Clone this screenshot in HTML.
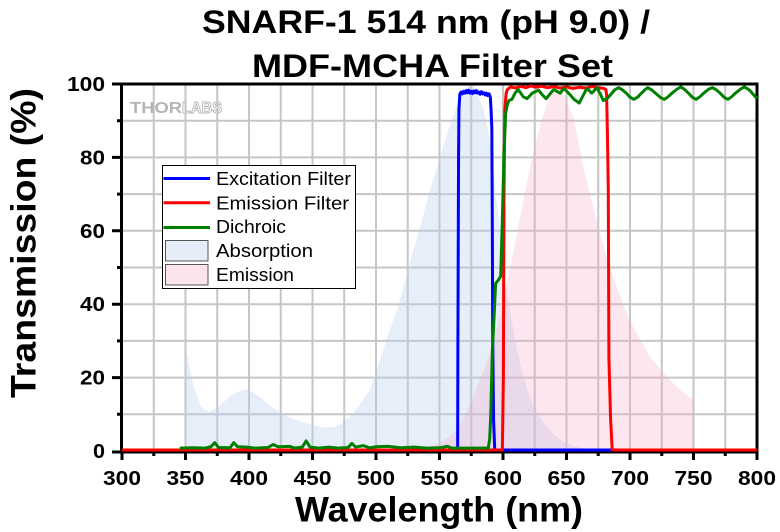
<!DOCTYPE html>
<html><head><meta charset="utf-8"><style>
html,body{margin:0;padding:0;background:#fff;}
svg{display:block;}
text{font-family:"Liberation Sans",Arial,sans-serif;}
</style></head><body>
<svg width="780" height="532" viewBox="0 0 780 532" xmlns="http://www.w3.org/2000/svg">
<rect width="780" height="532" fill="#fff"/>
<!-- Title -->
<text x="202" y="33" font-size="32" font-weight="bold" textLength="448" lengthAdjust="spacingAndGlyphs">SNARF-1 514 nm (pH 9.0) /</text>
<text x="252" y="77" font-size="32" font-weight="bold" textLength="361" lengthAdjust="spacingAndGlyphs">MDF-MCHA Filter Set</text>

<!-- grid -->
<g stroke="#c6c6c6" stroke-width="2">
<path d="M153.75 84V451M185.5 84V451M217.25 84V451M249 84V451M280.75 84V451M312.5 84V451M344.25 84V451M376 84V451M407.75 84V451M439.5 84V451M471.25 84V451M503 84V451M534.75 84V451M566.5 84V451M598.25 84V451M630 84V451M661.75 84V451M693.5 84V451M725.25 84V451"/>
<path d="M122 414.3H757M122 377.6H757M122 340.9H757M122 304.2H757M122 267.5H757M122 230.8H757M122 194.1H757M122 157.4H757M122 120.7H757"/>
</g>

<!-- Thorlabs logo -->
<text x="130" y="113" font-size="16" font-weight="bold" fill="#b4b4b4" textLength="52" lengthAdjust="spacingAndGlyphs">THOR</text>
<text x="182" y="113" font-size="16" font-weight="bold" fill="#fff" stroke="#b4b4b4" stroke-width="0.9" textLength="40" lengthAdjust="spacingAndGlyphs">LABS</text>

<g transform="matrix(1.27,0,0,-3.66,-259,450)">
<!-- Absorption -->
<polygon fill="#b8cdee" fill-opacity="0.35" points="350,0 350,28.6 353.5,22 356,18 358.8,14.8 362,12.2 364,11.2 368,10.4 371,10.8 374.6,11.6 380,13 385,14.8 392,16 398,16.6 403,15.8 408.7,14.4 416,12.3 424.4,10.3 433,8.8 442.8,7.5 452,6.6 461,6.1 468,6.4 474,7.5 480,9.2 484.8,11.2 490,13.8 495,16.5 500,21 505,26.5 510,32 516,37.5 522,45 529,54 536,62.5 542.5,71 548,77 553,83 558,88.5 563.5,93.8 568,97 572,99.3 575.3,100 579,98.5 584.5,93 588,88 591,81 593,75 595,68 599,55 603,43 607,35 611,27.5 616,20 621,14.6 627,10 633,7 640,4.2 648,2.2 656,1 665,0.3 675,0"/>
<!-- Emission -->
<polygon fill="#f3a6c4" fill-opacity="0.28" points="520,0 530,0.3 540,0.8 550,1.9 557,3.5 563.5,5.5 570,9.5 576.6,14.6 584,21 592.4,29.2 598,37 603,45.5 607,52 610.8,59 615,66 618.7,72.8 623,80 629,88.2 633,93 637,96.5 641,100 645,99 650,95.5 655.4,90.9 659,85 663.2,77.3 668.5,70 675,61 681.6,52.8 689.5,44.6 697.4,37.3 705.3,31.9 715.7,25.5 728.9,20 739.4,16.4 749.8,13.7 750,0"/>
</g>

<!-- axes / frame -->
<g stroke="#000" stroke-width="3" fill="none">
<path d="M121.5 84V453.5"/>
<path d="M120 452H758"/>
<path d="M120 84H758.5"/>
<path d="M757 82.5V453.5"/>
<!-- y ticks -->
<path d="M112 452H122M112 377.6H122M112 304.2H122M112 230.8H122M112 157.4H122M112 84H122"/>
<path d="M117 414.3H122M117 340.9H122M117 267.5H122M117 194.1H122M117 120.7H122"/>
<!-- x ticks -->
<path d="M122 451V460M185.5 451V460M249 451V460M312.5 451V460M376 451V460M439.5 451V460M503 451V460M566.5 451V460M630 451V460M693.5 451V460M757 451V460"/>
<path d="M153.75 451V456M217.25 451V456M280.75 451V456M344.25 451V456M407.75 451V456M471.25 451V456M534.75 451V456M598.25 451V456M661.75 451V456M725.25 451V456"/>
</g>

<g transform="matrix(1.27,0,0,-3.66,-259,450)">
<!-- Excitation (blue) -->
<polyline vector-effect="non-scaling-stroke" stroke="#0000ff" stroke-width="3" stroke-linejoin="round" fill="none" points="300,0 564.3,0 564.5,30 565,80 565.3,93 566,97.2 567,97.8 568,97.3 569,98 570,97.5 571,98.2 572,97.6 573,98.3 574,97.5 575,98 576,97.4 577,98.1 578,97.6 579,98.2 580,97.5 581,97.8 582,97.2 583,97.9 584,97.3 585,97.6 586,97 587,97.5 588,96.8 589,97.3 590,96.5 590.6,93 591.2,88 591.6,60 591.9,30 592.6,8 593.5,0 800,0"/>
<!-- Emission filter (red) -->
<polyline vector-effect="non-scaling-stroke" stroke="#ff0000" stroke-width="3" stroke-linejoin="round" fill="none" points="300,0 599.5,0 600.3,20 600.8,70 601.4,93 602.5,97.5 603.5,98.5 606,99.2 610,98.9 614,99.4 618,99 622,99.5 626,99.1 630,99.4 635,99 640,99.3 645,98.9 650,99.2 655,98.8 660,99.1 665,98.9 670,99.3 675,99 679,98.8 681,98.5 681.6,97 682.3,85 682.9,71 683.4,25 684.7,8.6 686,0 800,0"/>
<!-- Dichroic (green) -->
<polyline vector-effect="non-scaling-stroke" stroke="#008000" stroke-width="3" stroke-linejoin="round" fill="none" points="345.5,0.5 355,0.6 365,0.5 370,0.9 373,2 376,0.7 385,0.6 388,2 391,0.9 398,0.8 405,0.5 415,0.7 419,1.5 423,0.9 432,1 436,0.5 442,0.8 445,2.5 448,0.8 455,0.5 463,0.8 470,0.5 478,0.7 481,1.8 484,0.8 490,1.2 495,0.6 500,0.9 510,1 520,0.6 530,0.8 540,0.5 550,0.6 556,1 560,0.5 570,0.5 580,0.5 588.4,0.5 589.5,3 590.3,9 591.6,27 592.9,36 594.2,45.5 596.3,46.4 598.2,47.5 599.5,63 600.8,81 602.1,92 603.5,94.5 604.7,95.5 607,95.8 609.5,97.5 612,98.5 616,96.5 619,96 623,97.5 628,98.3 631,97 634,96 637,97.3 640,98.5 645,97.5 648,98.8 653,97 656,95.8 660,94.8 663,96.8 666,98.8 670,97.5 674,99 677,97 679,95.5 682,96 685,97.2 688,98.4 691,99 694,98.4 697,97.5 700,96.4 703,95.8 706,96.4 709,97.5 712,98.5 714,99 717,98.4 720,97.5 724,96.3 727,95.8 730,96.5 733,97.5 737,98.6 740,99.2 743,98.5 746,97.5 749,96.4 752,95.8 755,96.5 758,97.5 762,98.6 765,99 768,98.4 771,97.5 774,96.4 777,95.8 780,96.5 783,97.5 787,98.6 790,99.2 793,98.6 795,98 798,96.8 800,96"/>
</g>

<!-- y tick labels -->
<g font-size="20" font-weight="bold" text-anchor="end">
<text x="105" y="458" textLength="12" lengthAdjust="spacingAndGlyphs">0</text>
<text x="105" y="384.6" textLength="25" lengthAdjust="spacingAndGlyphs">20</text>
<text x="105" y="311.2" textLength="25" lengthAdjust="spacingAndGlyphs">40</text>
<text x="105" y="237.8" textLength="25" lengthAdjust="spacingAndGlyphs">60</text>
<text x="105" y="164.4" textLength="25" lengthAdjust="spacingAndGlyphs">80</text>
<text x="105" y="91" textLength="38" lengthAdjust="spacingAndGlyphs">100</text>
</g>
<!-- x tick labels -->
<g font-size="20" font-weight="bold">
<text x="103" y="485" textLength="38" lengthAdjust="spacingAndGlyphs">300</text>
<text x="166.5" y="485" textLength="38" lengthAdjust="spacingAndGlyphs">350</text>
<text x="230" y="485" textLength="38" lengthAdjust="spacingAndGlyphs">400</text>
<text x="293.5" y="485" textLength="38" lengthAdjust="spacingAndGlyphs">450</text>
<text x="357" y="485" textLength="38" lengthAdjust="spacingAndGlyphs">500</text>
<text x="420.5" y="485" textLength="38" lengthAdjust="spacingAndGlyphs">550</text>
<text x="484" y="485" textLength="38" lengthAdjust="spacingAndGlyphs">600</text>
<text x="547.5" y="485" textLength="38" lengthAdjust="spacingAndGlyphs">650</text>
<text x="611" y="485" textLength="38" lengthAdjust="spacingAndGlyphs">700</text>
<text x="674.5" y="485" textLength="38" lengthAdjust="spacingAndGlyphs">750</text>
<text x="738" y="485" textLength="38" lengthAdjust="spacingAndGlyphs">800</text>
</g>

<!-- axis titles -->
<text x="295" y="521.5" font-size="35" font-weight="bold" textLength="288" lengthAdjust="spacingAndGlyphs">Wavelength (nm)</text>
<text transform="translate(35.5,398) rotate(-90)" x="0" y="0" font-size="35" font-weight="bold" textLength="310" lengthAdjust="spacingAndGlyphs">Transmission (%)</text>

<!-- legend -->
<rect x="162.5" y="165.5" width="193" height="123" fill="#fff" stroke="#000" stroke-width="1"/>
<g stroke-width="3">
<line x1="163.5" y1="178.5" x2="210" y2="178.5" stroke="#0000ff"/>
<line x1="163.5" y1="202.7" x2="210" y2="202.7" stroke="#ff0000"/>
<line x1="163.5" y1="227.5" x2="210" y2="227.5" stroke="#008000"/>
</g>
<rect x="165.5" y="240.5" width="42.5" height="20.5" fill="#e6edf9" stroke="#555" stroke-width="1"/>
<rect x="165.5" y="264.5" width="42.5" height="20.5" fill="#fbe4ec" stroke="#555" stroke-width="1"/>
<g font-size="18.5">
<text x="216" y="185" textLength="135" lengthAdjust="spacingAndGlyphs">Excitation Filter</text>
<text x="216" y="209.3" textLength="133" lengthAdjust="spacingAndGlyphs">Emission Filter</text>
<text x="216" y="233" textLength="70" lengthAdjust="spacingAndGlyphs">Dichroic</text>
<text x="216" y="257" textLength="97" lengthAdjust="spacingAndGlyphs">Absorption</text>
<text x="216" y="281" textLength="78" lengthAdjust="spacingAndGlyphs">Emission</text>
</g>
</svg>
</body></html>
